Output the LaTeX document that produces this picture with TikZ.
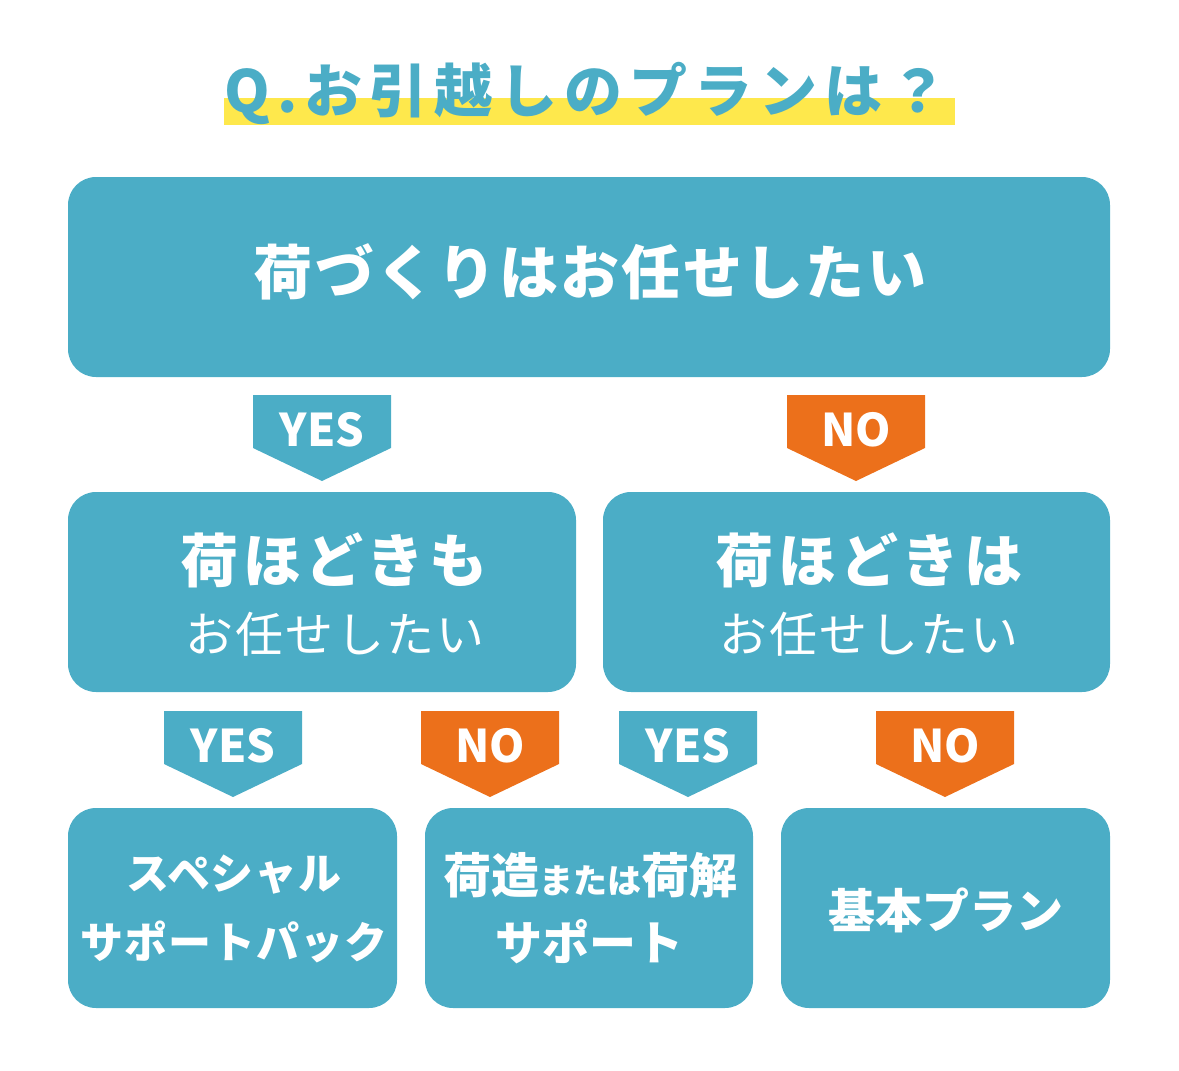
\documentclass[tikz,border=0pt]{standalone}
\usepackage{fontspec}
\setmainfont{Noto Sans CJK JP}
\definecolor{plan_teal}{RGB}{75,173,198}
\definecolor{plan_orange}{RGB}{236,112,27}
\definecolor{plan_yellow}{RGB}{254,232,76}
\begin{document}
\begin{tikzpicture}[x=1pt,y=-1pt]
    \tikzstyle{box}=[fill=plan_teal, rounded corners=28pt, inner sep=0pt]
    \tikzstyle{boxtext}=[text=white, inner sep=0pt, font=\bfseries]
    \tikzstyle{badgetext}=[text=white, inner sep=0pt, anchor=base, font=\bfseries\fontsize{45}{45}\selectfont]
    \useasboundingbox (0,0) rectangle (1179,1071);

    % title
    \fill[plan_yellow] (224,98) rectangle (955,125);
    \node[inner sep=0pt, text=plan_teal, font=\bfseries\fontsize{58}{58}\selectfont\addfontfeature{LetterSpace=12}] (title) at (586,93) {Q.お引越しのプランは？};

    % boxes
    \node[box, minimum width=1042pt, minimum height=200pt] (top) at (589,277) {};
    \node[box, minimum width=508pt, minimum height=200pt] (midl) at (322,592) {};
    \node[box, minimum width=507pt, minimum height=200pt] (midr) at (856.5,592) {};
    \node[box, minimum width=329pt, minimum height=200pt] (botl) at (232.5,908) {};
    \node[box, minimum width=328pt, minimum height=200pt] (botm) at (589,908) {};
    \node[box, minimum width=329pt, minimum height=200pt] (botr) at (945.5,908) {};

    % texts
    \node[boxtext, font=\bfseries\fontsize{59}{59}\selectfont\addfontfeature{LetterSpace=4}] (t-top) at (590,272) {荷づくりはお任せしたい};
    \node[boxtext, font=\bfseries\fontsize{58}{58}\selectfont\addfontfeature{LetterSpace=8}] (t-midl1) at (334,560) {荷ほどきも};
    \node[boxtext, font=\fontsize{48}{48}\selectfont\addfontfeature{LetterSpace=5}] (t-midl2) at (335,634) {お任せしたい};
    \node[boxtext, font=\bfseries\fontsize{58}{58}\selectfont\addfontfeature{LetterSpace=8}] (t-midr1) at (869,560) {荷ほどきは};
    \node[boxtext, font=\fontsize{48}{48}\selectfont\addfontfeature{LetterSpace=5}] (t-midr2) at (869,634) {お任せしたい};
    \node[boxtext, font=\bfseries\fontsize{43}{43}\selectfont\addfontfeature{LetterSpace=2}] (t-botl1) at (234,875) {スペシャル};
    \node[boxtext, font=\bfseries\fontsize{43}{43}\selectfont\addfontfeature{LetterSpace=2}] (t-botl2) at (234,942) {サポートパック};
    \node[boxtext, font=\bfseries\fontsize{48}{48}\selectfont] (t-botm1) at (590,875) {荷造{\fontsize{34}{34}\selectfont または}荷解};
    \node[boxtext, font=\bfseries\fontsize{47}{47}\selectfont] (t-botm2) at (589,942) {サポート};
    \node[boxtext, font=\bfseries\fontsize{47}{47}\selectfont] (t-botr) at (945.5,910) {基本プラン};

    % yes / no badges
    \foreach \x/\y/\c/\t [count=\i] in {322/395/plan_teal/YES, 856/395/plan_orange/NO,
        233/711/plan_teal/YES, 490/711/plan_orange/NO, 688/711/plan_teal/YES, 945/711/plan_orange/NO}{
      \fill[\c] (\x-69,\y) -- (\x+69,\y) -- (\x+69,\y+53) -- (\x,\y+86) -- (\x-69,\y+53) -- cycle;
      \node[badgetext] (badge\i) at (\x,\y+51) {\t};
    }
\end{tikzpicture}
\end{document}
